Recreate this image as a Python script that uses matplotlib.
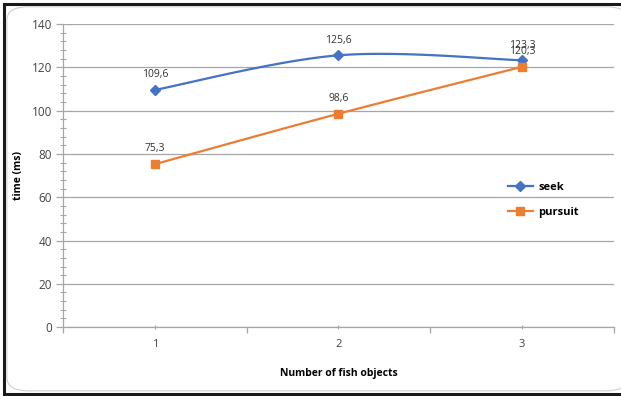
import numpy as np
import matplotlib.pyplot as plt
from matplotlib.patches import FancyBboxPatch, Rectangle
from matplotlib.ticker import MultipleLocator

plt.rcParams['font.family'] = ['Open Sans', 'DejaVu Sans']

fish_objects = [1, 2, 3]
seek = [109.6, 125.6, 123.3]
pursuit = [75.3, 98.6, 120.3]
y_ticks = [0, 20, 40, 60, 80, 100, 120, 140]

blue = '#4472C4'
orange = '#ED7D31'


def smooth(xs, ys, n=40):
    # Catmull-Rom through the points, written as cubic Bezier segments
    pts = np.column_stack([xs, ys]).astype(float)
    out = [pts[0]]
    for i in range(len(pts) - 1):
        p0 = pts[i - 1] if i > 0 else pts[i]
        p1, p2 = pts[i], pts[i + 1]
        p3 = pts[i + 2] if i + 2 < len(pts) else pts[i + 1]
        c1 = p1 + (p2 - p0) / 6
        c2 = p2 - (p3 - p1) / 6
        t = np.linspace(0, 1, n)[1:, None]
        seg = ((1 - t) ** 3) * p1 + 3 * ((1 - t) ** 2) * t * c1 + 3 * (1 - t) * t ** 2 * c2 + t ** 3 * p2
        out.extend(seg)
    out = np.array(out)
    return out[:, 0], out[:, 1]


fig = plt.figure(figsize=(6.21, 3.96), dpi=100)

# chart frame
fig.patches.append(Rectangle((0.006, 0.005), 1.2, 0.985, transform=fig.transFigure,
                             facecolor='white', edgecolor='#1a1a1a', lw=2.2, zorder=-2))
fig.patches.append(FancyBboxPatch((0.011, 0.013), 1.0, 0.97, transform=fig.transFigure,
                                  boxstyle='round,pad=0,rounding_size=0.035',
                                  facecolor='white', edgecolor='#d0d0d0', lw=0.8, zorder=-1))

ax = fig.add_axes([0.1014, 0.174, 0.8873, 0.765])
ax.set_facecolor('none')

sx, sy = smooth(fish_objects, seek)
px, py = smooth(fish_objects, pursuit)
ax.plot(sx, sy, color=blue, lw=1.6, zorder=3)
ax.plot(px, py, color=orange, lw=1.6, zorder=3)
ax.plot(fish_objects, seek, ls='none', marker='D', ms=5, color=blue, zorder=4)
ax.plot(fish_objects, pursuit, ls='none', marker='s', ms=5.5, color=orange, zorder=4)

for x, v in zip(fish_objects, seek):
    ax.annotate(f'{v:.1f}'.replace('.', ','), (x, v), xytext=(0, 7), textcoords='offset points',
                ha='center', va='bottom', fontsize=7.5, color='#333333')
for x, v in zip(fish_objects, pursuit):
    ax.annotate(f'{v:.1f}'.replace('.', ','), (x, v), xytext=(0, 7), textcoords='offset points',
                ha='center', va='bottom', fontsize=7.5, color='#333333')

ax.set_xlim(0.5, 3.5)
ax.set_ylim(0, 140)
ax.set_xticks(fish_objects)
ax.set_xticks([0.5, 1.5, 2.5, 3.5], minor=True)
ax.set_yticks(y_ticks)
ax.yaxis.set_minor_locator(MultipleLocator(4))
ax.grid(axis='y', color='#a6a6a6', lw=0.9)
ax.set_axisbelow(True)

for side in ['top', 'right']:
    ax.spines[side].set_visible(False)
for side in ['left', 'bottom']:
    ax.spines[side].set_color('#a6a6a6')
    ax.spines[side].set_linewidth(0.9)

ax.tick_params(axis='y', which='major', length=5, width=0.9, color='#a6a6a6', direction='out',
               labelsize=8.5, labelcolor='#444444', pad=3)
ax.tick_params(axis='y', which='minor', length=4, width=0.8, color='#a6a6a6', direction='inout')
ax.tick_params(axis='x', which='major', length=3, width=0.9, color='#a6a6a6', direction='inout',
               labelsize=8, labelcolor='#444444', pad=7)
ax.tick_params(axis='x', which='minor', length=4, width=0.9, color='#a6a6a6', direction='out')

ax.set_ylabel('time (ms)', fontsize=7.5, fontweight='bold')
ax.set_xlabel('Number of fish objects', fontsize=7.5, fontweight='bold')
ax.yaxis.set_label_coords(-0.07, 0.5)
ax.xaxis.set_label_coords(0.5, -0.135)

ax.plot([], [], color=blue, lw=1.6, marker='D', ms=5, label='seek')
ax.plot([], [], color=orange, lw=1.6, marker='s', ms=5.5, label='pursuit')
handles, labels = ax.get_legend_handles_labels()
leg = ax.legend(handles, labels, loc='center left', bbox_to_anchor=(0.79, 0.42), frameon=False,
                prop={'size': 8, 'weight': 'bold'}, handlelength=2.2, labelspacing=1.3,
                handletextpad=0.5)

fig.savefig('out.png', dpi=100)
